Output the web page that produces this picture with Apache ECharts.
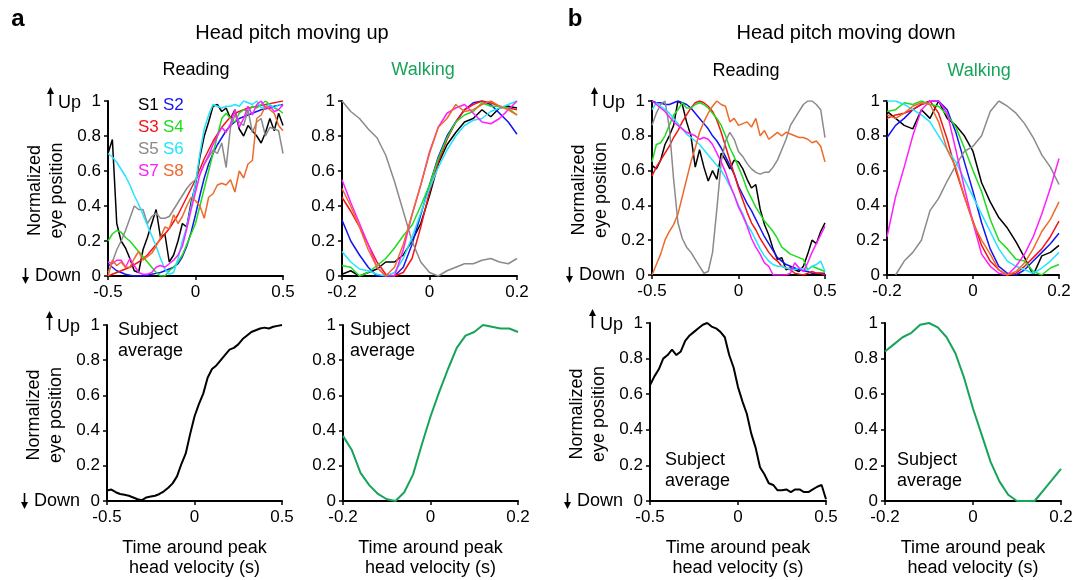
<!DOCTYPE html>
<html>
<head>
<meta charset="utf-8">
<script src="https://cdn.jsdelivr.net/npm/echarts@6/dist/echarts.min.js"></script>
<style>
  html, body { margin: 0; padding: 0; background: #ffffff; }
  #chart { width: 1077px; height: 580px; }
</style>
</head>
<body>
<div id="chart"></div>
<script>
// ---------- data ----------
const SUBJECTS = ['S1', 'S2', 'S3', 'S4', 'S5', 'S6', 'S7', 'S8'];

// sample times (s) around peak head velocity
const READ_TIME = [-0.5,-0.475,-0.45,-0.425,-0.4,-0.375,-0.35,-0.325,-0.3,-0.275,-0.25,-0.225,-0.2,-0.175,-0.15,-0.125,-0.1,-0.075,-0.05,-0.025,0,0.025,0.05,0.075,0.1,0.125,0.15,0.175,0.2,0.225,0.25,0.275,0.3,0.325,0.35,0.375,0.4,0.425,0.45,0.475,0.5];
const WALK_TIME = [-0.2,-0.18,-0.16,-0.14,-0.12,-0.1,-0.08,-0.06,-0.04,-0.02,0,0.02,0.04,0.06,0.08,0.1,0.12,0.14,0.16,0.18,0.2];

const READ_TICKS = [-0.5, 0, 0.5];
const WALK_TICKS = [-0.2, 0, 0.2];
const Y_TICKS = [0, 0.2, 0.4, 0.6, 0.8, 1];

// head pitch moving up, reading (one row per subject S1..S8)
const upReading = [
  [0.70,0.78,0.30,0.20,0.16,0.10,0.03,0.02,0.15,0.22,0.30,0.38,0.22,0.24,0.08,0.12,0.20,0.30,0.28,0.42,0.52,0.68,0.80,0.88,0.97,0.98,0.94,0.96,0.90,0.95,0.84,0.80,0.86,0.83,0.80,0.76,0.82,0.90,0.83,0.93,0.86],
  [0.07,0.05,0.03,0.02,0.01,0.005,0,0,0,0.005,0.01,0.015,0.02,0.03,0.04,0.05,0.07,0.11,0.17,0.25,0.35,0.46,0.56,0.64,0.70,0.75,0.79,0.83,0.86,0.88,0.90,0.91,0.92,0.93,0.94,0.95,0.955,0.96,0.97,0.975,0.98],
  [0,0.01,0.02,0.03,0.04,0.05,0.065,0.08,0.10,0.12,0.15,0.18,0.21,0.24,0.27,0.31,0.35,0.40,0.45,0.50,0.55,0.61,0.67,0.72,0.77,0.81,0.85,0.88,0.91,0.93,0.94,0.95,0.96,0.965,0.97,0.975,0.98,0.985,0.99,0.995,1.0],
  [0.20,0.24,0.26,0.25,0.22,0.20,0.17,0.14,0.11,0.08,0.05,0.02,0,0,0.03,0.05,0.08,0.12,0.18,0.24,0.30,0.40,0.50,0.60,0.70,0.80,0.90,0.93,0.90,0.88,0.93,0.95,0.94,0.97,0.96,0.98,1.0,0.98,0.96,0.95,0.93],
  [0.02,0.08,0.15,0.20,0.26,0.33,0.40,0.38,0.38,0.30,0.34,0.36,0.33,0.33,0.34,0.38,0.42,0.46,0.50,0.53,0.55,0.58,0.64,0.68,0.72,0.70,0.76,0.62,0.85,0.92,0.88,0.86,0.95,0.82,0.88,0.90,0.80,0.85,0.84,0.83,0.70],
  [0.70,0.68,0.65,0.61,0.57,0.52,0.46,0.41,0.35,0.29,0.23,0.17,0.10,0.04,0.01,0.02,0.10,0.20,0.28,0.40,0.53,0.70,0.84,0.92,0.98,0.97,0.96,0.97,0.97,0.98,0.97,1.0,0.99,0.98,1.0,0.96,0.97,0.98,0.96,0.98,0.97],
  [0.08,0.07,0.09,0.09,0.05,0.10,0.06,0.02,0.01,0.01,0.02,0.05,0.06,0.05,0.07,0.09,0.12,0.17,0.27,0.38,0.48,0.58,0.64,0.69,0.75,0.80,0.85,0.82,0.87,0.95,0.85,0.90,0.97,0.92,0.98,1.0,0.96,0.97,0.94,0.95,0.98],
  [0,0.09,0.06,0.08,0.05,0.05,0.10,0.14,0.09,0.11,0.13,0.17,0.22,0.28,0.27,0.35,0.30,0.34,0.40,0.45,0.43,0.40,0.33,0.45,0.47,0.52,0.53,0.52,0.55,0.48,0.60,0.56,0.64,0.66,0.90,0.92,0.97,0.95,0.93,0.86,0.83]
];

// head pitch moving up, walking
const upWalking = [
  [0.01,0.03,0.0,0.02,0.04,0.08,0.08,0.12,0.20,0.30,0.46,0.64,0.75,0.82,0.88,0.90,0.95,0.91,0.96,0.97,0.96],
  [0.32,0.20,0.12,0.05,0.0,0.0,0.0,0.05,0.18,0.35,0.52,0.68,0.80,0.88,0.95,0.99,1.0,0.98,0.93,0.88,0.81],
  [0.45,0.37,0.28,0.18,0.08,0.01,0.0,0.02,0.10,0.28,0.48,0.65,0.78,0.88,0.95,0.98,1.0,0.99,0.97,0.96,0.95],
  [0.06,0.05,0.0,0.02,0.06,0.10,0.16,0.23,0.29,0.40,0.52,0.67,0.79,0.88,0.92,0.94,0.99,0.97,0.97,0.96,0.92],
  [1.0,0.94,0.90,0.84,0.79,0.69,0.54,0.37,0.20,0.08,0.02,0.0,0.03,0.05,0.07,0.07,0.09,0.10,0.08,0.07,0.10],
  [0.14,0.08,0.04,0.03,0.01,0.0,0.02,0.10,0.22,0.36,0.50,0.62,0.72,0.80,0.86,0.89,0.90,0.94,0.96,0.98,1.0],
  [0.55,0.42,0.30,0.18,0.05,0.0,0.0,0.15,0.35,0.52,0.71,0.85,0.93,0.96,0.98,0.93,0.88,0.87,0.90,0.95,1.0],
  [0.50,0.40,0.28,0.15,0.05,0.0,0.05,0.18,0.35,0.52,0.70,0.85,0.90,0.98,0.94,0.95,0.98,1.0,0.97,0.95,0.92]
];

// head pitch moving down, reading
const downReading = [
  [0.63,0.61,0.66,0.75,0.80,0.86,1.0,0.98,0.88,0.80,0.62,0.72,0.62,0.54,0.60,0.55,0.70,0.66,0.61,0.66,0.65,0.61,0.55,0.50,0.52,0.38,0.29,0.23,0.15,0.09,0.10,0.03,0.04,0.03,0.02,0.05,0.12,0.20,0.18,0.25,0.30],
  [1.0,0.99,0.99,0.98,0.98,0.99,1.0,0.99,0.98,0.96,0.93,0.90,0.87,0.84,0.80,0.77,0.73,0.68,0.63,0.58,0.51,0.46,0.41,0.37,0.32,0.27,0.22,0.18,0.14,0.10,0.08,0.06,0.05,0.04,0.03,0.025,0.02,0.01,0.01,0.01,0.01],
  [0.57,0.62,0.66,0.70,0.74,0.79,0.83,0.88,0.92,0.96,0.99,1.0,0.99,0.97,0.94,0.89,0.82,0.74,0.66,0.58,0.50,0.43,0.36,0.30,0.26,0.21,0.17,0.13,0.10,0.08,0.05,0.04,0.03,0.01,0.005,0,0.01,0.02,0.01,0.01,0],
  [0.65,0.75,0.76,0.80,0.86,0.92,0.95,0.99,0.96,0.96,0.98,0.99,0.98,0.96,0.93,0.90,0.86,0.80,0.73,0.68,0.62,0.56,0.49,0.44,0.39,0.35,0.31,0.28,0.25,0.21,0.16,0.14,0.12,0.11,0.10,0.09,0.03,0.05,0.04,0.03,0.02],
  [0.86,0.93,0.98,1.0,0.85,0.55,0.30,0.21,0.16,0.13,0.09,0.05,0.01,0.02,0.13,0.38,0.65,0.77,0.82,0.78,0.71,0.68,0.64,0.61,0.59,0.58,0.59,0.59,0.62,0.66,0.72,0.78,0.86,0.90,0.94,0.98,1.0,1.0,0.98,0.95,0.79],
  [0.95,0.99,0.97,0.95,0.93,0.90,0.87,0.84,0.81,0.79,0.77,0.75,0.72,0.69,0.66,0.63,0.60,0.56,0.51,0.46,0.40,0.35,0.29,0.25,0.20,0.15,0.11,0.08,0.06,0.05,0.05,0.04,0.035,0.03,0.04,0.035,0.03,0.05,0.06,0.08,0.02],
  [1.0,0.98,0.96,0.94,0.91,0.88,0.86,0.84,0.82,0.81,0.80,0.78,0.79,0.78,0.75,0.70,0.65,0.59,0.52,0.46,0.39,0.34,0.28,0.21,0.16,0.12,0.07,0.05,0,0,0,0,0.01,0.07,0.04,0.02,0.07,0.13,0.18,0.23,0.28],
  [0,0.06,0.12,0.20,0.25,0.29,0.35,0.45,0.55,0.65,0.73,0.82,0.88,0.93,0.97,1.0,0.98,0.97,0.88,0.90,0.86,0.87,0.88,0.85,0.90,0.80,0.83,0.78,0.80,0.82,0.80,0.82,0.81,0.80,0.79,0.79,0.78,0.76,0.77,0.74,0.65]
];

// head pitch moving down, walking
const downWalking = [
  [0.94,0.90,0.86,0.84,0.95,0.90,1.0,0.90,0.86,0.80,0.71,0.53,0.42,0.33,0.27,0.19,0.10,0.0,0.11,0.13,0.17],
  [0.79,0.86,0.90,0.95,0.98,1.0,1.0,0.95,0.82,0.65,0.48,0.30,0.15,0.05,0.01,0.0,0.03,0.08,0.13,0.18,0.24],
  [0.90,0.92,0.93,0.95,0.98,1.0,0.93,0.78,0.60,0.45,0.31,0.17,0.08,0.03,0.0,0.01,0.05,0.10,0.15,0.22,0.31],
  [0.94,0.95,0.99,0.98,1.0,0.98,0.97,0.92,0.85,0.73,0.60,0.48,0.32,0.20,0.15,0.09,0.08,0.02,0.0,0.04,0.06],
  [null,0.0,0.08,0.13,0.20,0.37,0.44,0.54,0.63,0.71,0.74,0.80,0.94,1.0,0.97,0.93,0.87,0.79,0.69,0.62,0.52],
  [1.0,1.0,0.98,0.95,0.92,0.88,0.80,0.72,0.65,0.55,0.45,0.35,0.25,0.15,0.08,0.05,0.03,0.01,0.04,0.08,0.13],
  [0.22,0.45,0.62,0.80,0.95,1.0,1.0,0.93,0.72,0.50,0.30,0.12,0.05,0.01,0.0,0.05,0.12,0.22,0.35,0.50,0.67],
  [0.92,0.90,0.93,0.97,0.99,0.98,0.88,0.72,0.62,0.45,0.30,0.20,0.12,0.03,0.0,0.02,0.07,0.15,0.25,0.32,0.42]
];

// subject averages
const upReadingAvg = [0.06,0.065,0.05,0.04,0.035,0.03,0.02,0.01,0.005,0.02,0.025,0.03,0.04,0.055,0.075,0.10,0.14,0.21,0.27,0.38,0.48,0.55,0.61,0.70,0.75,0.77,0.80,0.83,0.86,0.87,0.89,0.92,0.94,0.96,0.97,0.98,0.985,0.98,0.99,0.995,1.0];
const upWalkingAvg = [0.37,0.29,0.16,0.09,0.04,0.01,0.0,0.05,0.15,0.32,0.48,0.62,0.75,0.87,0.94,0.96,1.0,0.99,0.98,0.98,0.96];
const downReadingAvg = [0.65,0.70,0.74,0.80,0.82,0.85,0.82,0.84,0.90,0.93,0.95,0.97,0.99,1.0,0.98,0.97,0.95,0.92,0.82,0.75,0.64,0.56,0.49,0.38,0.30,0.19,0.15,0.10,0.09,0.06,0.06,0.065,0.05,0.065,0.065,0.05,0.05,0.065,0.08,0.09,0.01];
const downWalkingAvg = [0.84,0.88,0.92,0.945,0.99,1.0,0.975,0.92,0.83,0.69,0.52,0.37,0.22,0.11,0.035,0.0,0.0,0.0,0.06,0.12,0.18];

// ---------- styling ----------
const FONT = '"Liberation Sans", Arial, Helvetica, sans-serif';
const SUBJECT_COLORS = ['#000000', '#1414f5', '#f51414', '#1edc1e', '#8a8a8a', '#22e4ff', '#ff1eff', '#ee6a2c'];
const WALK_GREEN = '#18a35a';
const TICK_SIZE = 17;

const GRIDS = [
  { left: 108, top: 101, width: 175, height: 175 },
  { left: 342, top: 101, width: 175, height: 175 },
  { left: 652, top: 101, width: 173, height: 174 },
  { left: 887, top: 101, width: 172, height: 174 },
  { left: 107, top: 325, width: 175, height: 176 },
  { left: 343, top: 325, width: 175, height: 176 },
  { left: 650, top: 323, width: 176, height: 178 },
  { left: 885, top: 323, width: 176, height: 178 }
];

const PANELS = [
  { time: READ_TIME, ticks: READ_TICKS, lines: upReading,        colors: SUBJECT_COLORS, width: 1.5 },
  { time: WALK_TIME, ticks: WALK_TICKS, lines: upWalking,        colors: SUBJECT_COLORS, width: 1.5 },
  { time: READ_TIME, ticks: READ_TICKS, lines: downReading,      colors: SUBJECT_COLORS, width: 1.5 },
  { time: WALK_TIME, ticks: WALK_TICKS, lines: downWalking,      colors: SUBJECT_COLORS, width: 1.5 },
  { time: READ_TIME, ticks: READ_TICKS, lines: [upReadingAvg],   colors: ['#000000'],    width: 2 },
  { time: WALK_TIME, ticks: WALK_TICKS, lines: [upWalkingAvg],   colors: [WALK_GREEN],   width: 2 },
  { time: READ_TIME, ticks: READ_TICKS, lines: [downReadingAvg], colors: ['#000000'],    width: 2 },
  { time: WALK_TIME, ticks: WALK_TICKS, lines: [downWalkingAvg], colors: [WALK_GREEN],   width: 2 }
];

const axisCommon = {
  axisLine: { onZero: false, lineStyle: { color: '#000', width: 2 } },
  axisTick: { show: true, length: 4, lineStyle: { color: '#000', width: 1.5 } },
  axisLabel: { color: '#000', fontSize: TICK_SIZE, fontFamily: FONT },
  splitLine: { show: false }
};

const xAxes = PANELS.map((p, i) => Object.assign({}, axisCommon, {
  type: 'value', gridIndex: i,
  min: p.ticks[0], max: p.ticks[p.ticks.length - 1], interval: p.ticks[1] - p.ticks[0],
  axisLabel: Object.assign({}, axisCommon.axisLabel, { margin: 8 })
}));
const yAxes = PANELS.map((p, i) => Object.assign({}, axisCommon, {
  type: 'value', gridIndex: i,
  min: Y_TICKS[0], max: Y_TICKS[Y_TICKS.length - 1], interval: Y_TICKS[1] - Y_TICKS[0],
  axisLabel: Object.assign({}, axisCommon.axisLabel, { margin: 7 })
}));

const series = [];
PANELS.forEach((p, i) => {
  p.lines.forEach((vals, j) => {
    series.push({
      type: 'line', xAxisIndex: i, yAxisIndex: i,
      name: p.lines.length > 1 ? SUBJECTS[j] : 'Subject average',
      data: p.time.map((t, k) => [t, vals[k] == null ? '-' : vals[k]]),
      symbol: 'none', showSymbol: false, silent: true,
      lineStyle: { color: p.colors[j], width: p.width },
      itemStyle: { color: p.colors[j] }
    });
  });
});

// ---------- annotations ----------
function text(x, y, str, opt) {
  opt = opt || {};
  return {
    type: 'text', x: x, y: y, rotation: opt.rotation || 0, silent: true,
    style: {
      text: str,
      fill: opt.color || '#000',
      font: (opt.weight || 'normal') + ' ' + (opt.size || 18) + 'px ' + FONT,
      textAlign: opt.align || 'center',
      textVerticalAlign: opt.valign || 'middle'
    }
  };
}
function arrow(x, y1, y2, up) {
  const tip = up ? y1 : y2;
  const base = up ? y1 + 7 : y2 - 7;
  return [
    { type: 'line', silent: true, shape: { x1: x, y1: up ? y1 + 4 : y1, x2: x, y2: up ? y2 : y2 - 4 },
      style: { stroke: '#000', lineWidth: 1.6 } },
    { type: 'polygon', silent: true, shape: { points: [[x - 3.5, base], [x + 3.5, base], [x, tip]] },
      style: { fill: '#000' } }
  ];
}

const graphics = [];
graphics.push(text(18, 19, 'a', { size: 24, weight: 'bold' }));
graphics.push(text(575, 19, 'b', { size: 24, weight: 'bold' }));
graphics.push(text(292, 33, 'Head pitch moving up', { size: 20 }));
graphics.push(text(846, 33, 'Head pitch moving down', { size: 20 }));
graphics.push(text(196, 70, 'Reading'));
graphics.push(text(423, 70, 'Walking', { color: WALK_GREEN }));
graphics.push(text(746, 71, 'Reading'));
graphics.push(text(979, 71, 'Walking', { color: WALK_GREEN }));

// direction marks and y-axis names on the first panel of each pair
[0, 2, 4, 6].forEach(i => {
  const g = GRIDS[i];
  const ax = g.left, top = g.top, bot = g.top + g.height;
  graphics.push(...arrow(ax - 57.5, top - 14, top + 5, true));
  graphics.push(text(ax - 50, top + 2, 'Up', { align: 'left' }));
  graphics.push(...arrow(ax - 82.5, bot - 8, bot + 8, false));
  graphics.push(text(ax - 73, bot, 'Down', { align: 'left' }));
  const mid = top + g.height / 2 + 2;
  graphics.push(text(ax - 73, mid, 'Normalized', { rotation: Math.PI / 2 }));
  graphics.push(text(ax - 51, mid, 'eye position', { rotation: Math.PI / 2 }));
});

// subject legend
SUBJECTS.forEach((s, j) => {
  const col = j % 2, row = Math.floor(j / 2);
  graphics.push(text(138 + col * 25, 105 + row * 22, s,
    { align: 'left', size: 17, color: SUBJECT_COLORS[j] }));
});

// "Subject average" notes
[[118, 330], [350, 330], [665, 460], [897, 460]].forEach(p => {
  graphics.push(text(p[0], p[1], 'Subject', { align: 'left' }));
  graphics.push(text(p[0], p[1] + 21, 'average', { align: 'left' }));
});

// x-axis names under the lower row
[4, 5, 6, 7].forEach(i => {
  const g = GRIDS[i];
  const cx = g.left + g.width / 2;
  graphics.push(text(cx, 548, 'Time around peak'));
  graphics.push(text(cx, 568, 'head velocity (s)'));
});

const chart = echarts.init(document.getElementById('chart'), null, { renderer: 'canvas' });
chart.setOption({
  backgroundColor: '#ffffff',
  animation: false,
  grid: GRIDS.map(g => Object.assign({ containLabel: false }, g)),
  xAxis: xAxes,
  yAxis: yAxes,
  series: series,
  graphic: { elements: graphics }
});
</script>
</body>
</html>
